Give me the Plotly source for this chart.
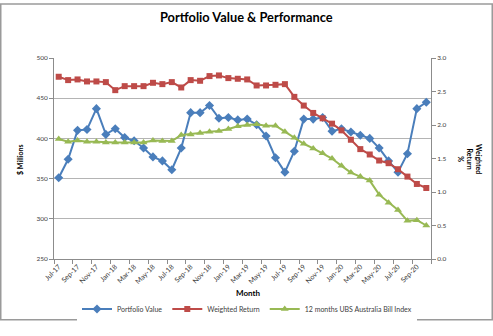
import plotly.graph_objects as go

months = ["Jul-17","Aug-17","Sep-17","Oct-17","Nov-17","Dec-17","Jan-18","Feb-18","Mar-18","Apr-18",
          "May-18","Jun-18","Jul-18","Aug-18","Sep-18","Oct-18","Nov-18","Dec-18","Jan-19","Feb-19",
          "Mar-19","Apr-19","May-19","Jun-19","Jul-19","Aug-19","Sep-19","Oct-19","Nov-19","Dec-19",
          "Jan-20","Feb-20","Mar-20","Apr-20","May-20","Jun-20","Jul-20","Aug-20","Sep-20","Oct-20"]

portfolio_value = [351, 374, 410, 411, 437, 405, 412, 401, 397, 388,
                   377, 372, 361, 388, 432, 432, 441, 425, 426, 423,
                   424, 417, 403, 376, 358, 384, 424, 424, 426, 409,
                   412, 408, 404, 400, 388, 372, 358, 381, 437, 445]

weighted_return = [2.72, 2.67, 2.68, 2.65, 2.65, 2.64, 2.52, 2.58, 2.58, 2.58,
                   2.63, 2.61, 2.64, 2.56, 2.67, 2.66, 2.73, 2.74, 2.70, 2.69,
                   2.68, 2.59, 2.59, 2.60, 2.61, 2.42, 2.29, 2.18, 2.10, 2.02,
                   1.92, 1.78, 1.64, 1.56, 1.47, 1.43, 1.34, 1.23, 1.12, 1.06]

ubs_bill_index = [1.79, 1.75, 1.77, 1.75, 1.75, 1.74, 1.74, 1.74, 1.74, 1.74,
                  1.77, 1.76, 1.76, 1.85, 1.86, 1.88, 1.90, 1.91, 1.94, 1.98,
                  2.00, 2.01, 1.99, 1.99, 1.90, 1.81, 1.72, 1.65, 1.58, 1.50,
                  1.39, 1.29, 1.23, 1.17, 0.96, 0.84, 0.73, 0.57, 0.58, 0.50]

left_ticks = [250, 300, 350, 400, 450, 500]
right_ticks = [0.0, 0.5, 1.0, 1.5, 2.0, 2.5, 3.0]

FONT = "Lato"
TXT = "#404040"
GRID = "#b4b4b4"
AX = "#8c8c8c"

fig = go.Figure()
fig.add_trace(go.Scatter(x=months, y=portfolio_value, name="Portfolio Value", mode="lines+markers",
                         line=dict(color="#4A7EBB", width=2),
                         marker=dict(symbol="diamond", size=7, color="#4A7EBB")))
fig.add_trace(go.Scatter(x=months, y=weighted_return, name="Weighted Return", mode="lines+markers",
                         yaxis="y2", line=dict(color="#BE4B48", width=2),
                         marker=dict(symbol="square", size=6, color="#BE4B48")))
fig.add_trace(go.Scatter(x=months, y=ubs_bill_index, name="12 months UBS Australia Bill Index",
                         mode="lines+markers", yaxis="y2", line=dict(color="#98B954", width=2),
                         marker=dict(symbol="triangle-up", size=7, color="#98B954")))

W, H = 493, 336
L, R, T, B = 54, 62, 58, 65
pw, ph = W - L - R, H - T - B

def px(x):
    return (x - L) / pw

def py(y):
    return (H - y - B) / ph

fig.update_layout(
    width=W, height=H,
    margin=dict(l=L, r=R, t=T, b=B),
    paper_bgcolor="white", plot_bgcolor="white",
    font=dict(family=FONT, size=7, color=TXT),
    showlegend=True,
    legend=dict(orientation="h", x=px(247), y=py(324), xanchor="center", yanchor="middle",
                font=dict(size=7, color=TXT), itemwidth=30, tracegroupgap=0),
    xaxis=dict(type="category", tickangle=-45, dtick=2, tick0=0, tickson="boundaries",
               ticks="outside", ticklen=4, tickcolor=AX,
               showline=True, linecolor=AX, linewidth=1, showgrid=False,
               tickfont=dict(size=7, color=TXT), range=[-0.5, 39.5]),
    yaxis=dict(range=[250, 500], tickvals=left_ticks, ticks="outside", ticklen=4,
               tickcolor=AX, showline=True, linecolor=AX, linewidth=1,
               showgrid=True, gridcolor=GRID, gridwidth=1, zeroline=False,
               tickfont=dict(size=6.5, color=TXT)),
    yaxis2=dict(range=[0, 3], overlaying="y", side="right", tickvals=right_ticks,
                tickformat=".1f", ticksuffix="%", ticks="outside", ticklen=4,
                tickcolor=AX, showline=True, linecolor=AX, linewidth=1,
                showgrid=False, zeroline=False, tickfont=dict(size=6.5, color=TXT)),
    annotations=[
        dict(text="<b>Portfolio Value & Performance</b>", x=px(246.5), y=py(15), xref="paper", yref="paper",
             showarrow=False, font=dict(size=12.8, color="#000000", family=FONT), xanchor="center", yanchor="middle"),
        dict(text="<b>$ Millions</b>", x=px(20), y=py(166), xref="paper", yref="paper",
             showarrow=False, textangle=-90, font=dict(size=7, color="#000000"), xanchor="center", yanchor="middle"),
        dict(text="<b>Month</b>", x=px(248), y=py(307), xref="paper", yref="paper",
             showarrow=False, font=dict(size=8, color="#000000"), xanchor="center", yanchor="middle"),
        dict(text="<b>Weighted<br>Return<br>%</b>", x=px(470), y=py(165), xref="paper", yref="paper",
             showarrow=False, textangle=90, font=dict(size=7, color="#000000"), xanchor="center", yanchor="middle"),
    ],
    shapes=[
        dict(type="rect", xref="paper", yref="paper", x0=px(0.75), x1=px(492.25), y0=py(335.25), y1=py(0.75),
             line=dict(color="#9a9a9a", width=1.5), fillcolor="rgba(0,0,0,0)", layer="below"),
    ],
)

fig.write_html("out.html")
